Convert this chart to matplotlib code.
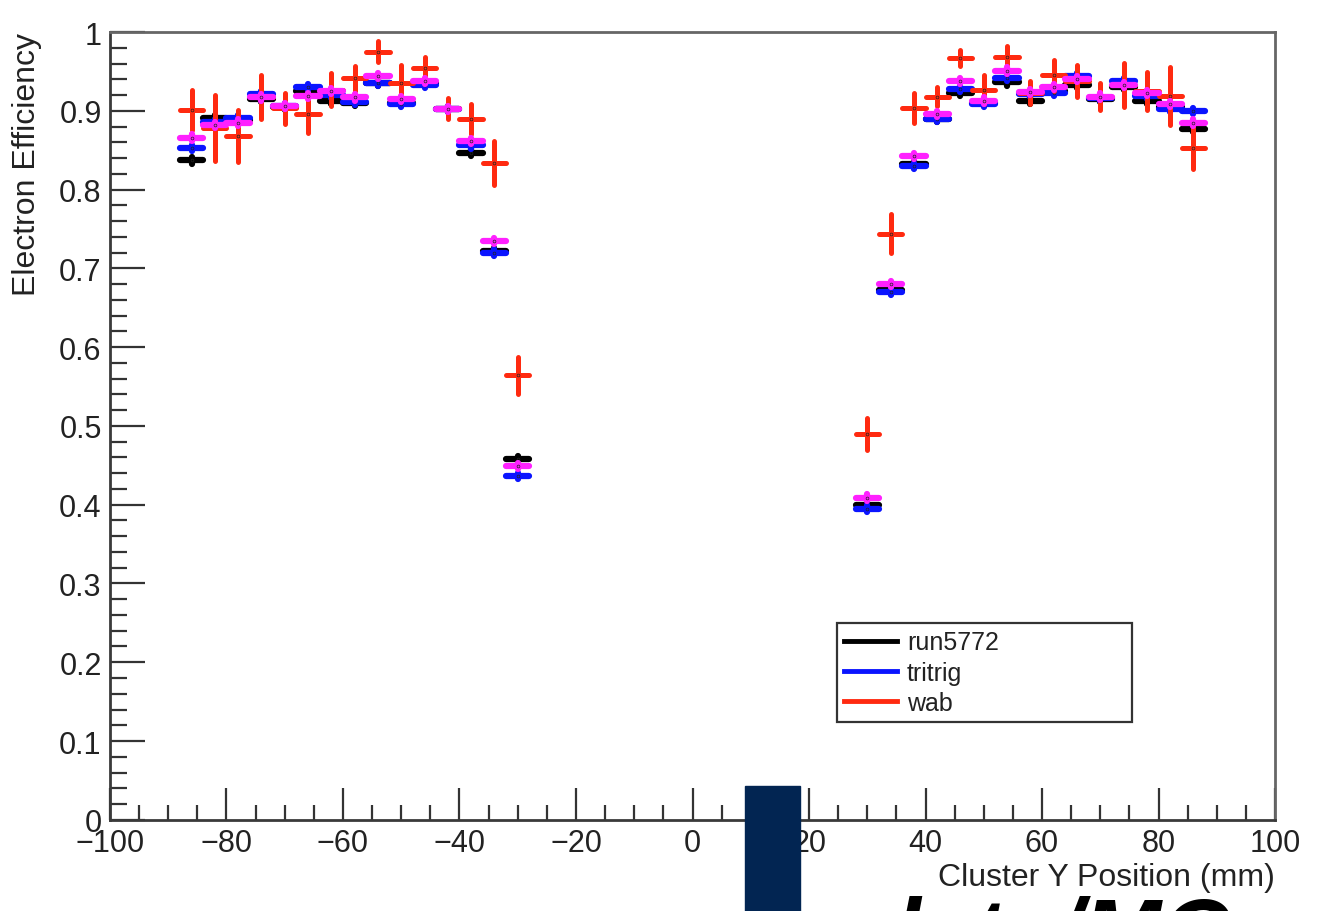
import numpy as np
import matplotlib
matplotlib.use("Agg")
import matplotlib.pyplot as plt
from matplotlib.lines import Line2D
from matplotlib.patches import Rectangle
from matplotlib.ticker import MultipleLocator, FuncFormatter

plt.rcParams['font.family'] = ['Liberation Sans', 'DejaVu Sans']

# bin centres (mm), 4 mm wide bins on each side of the gap
y_pos = [-86, -82, -78, -74, -70, -66, -62, -58, -54, -50, -46, -42, -38, -34, -30,
         30, 34, 38, 42, 46, 50, 54, 58, 62, 66, 70, 74, 78, 82, 86]

eff_run5772 = [0.837, 0.891, 0.888, 0.915, 0.905, 0.925, 0.913, 0.910, 0.935, 0.910,
               0.935, 0.902, 0.847, 0.722, 0.458,
               0.399, 0.672, 0.832, 0.890, 0.923, 0.910, 0.936, 0.913, 0.925, 0.933,
               0.915, 0.930, 0.913, 0.905, 0.877]

eff_tritrig = [0.853, 0.886, 0.891, 0.921, 0.906, 0.930, 0.920, 0.911, 0.935, 0.909,
               0.933, 0.902, 0.856, 0.720, 0.436,
               0.395, 0.670, 0.830, 0.890, 0.928, 0.909, 0.942, 0.921, 0.923, 0.944,
               0.916, 0.938, 0.919, 0.902, 0.900]

# magenta series (not in the legend)
eff_sum = [0.866, 0.882, 0.885, 0.917, 0.906, 0.919, 0.925, 0.917, 0.944, 0.915,
           0.938, 0.902, 0.862, 0.735, 0.449,
           0.409, 0.680, 0.843, 0.896, 0.938, 0.913, 0.951, 0.924, 0.930, 0.940,
           0.918, 0.933, 0.923, 0.909, 0.885]

eff_wab = [0.901, 0.878, 0.868, 0.917, 0.903, 0.896, 0.927, 0.941, 0.975, 0.935,
           0.954, 0.903, 0.890, 0.834, 0.564,
           0.490, 0.744, 0.904, 0.918, 0.967, 0.927, 0.968, 0.923, 0.945, 0.938,
           0.918, 0.933, 0.925, 0.919, 0.853]

err_wab = [0.025, 0.042, 0.033, 0.028, 0.020, 0.024, 0.021, 0.016, 0.013, 0.023,
           0.014, 0.013, 0.019, 0.028, 0.023,
           0.020, 0.025, 0.019, 0.012, 0.010, 0.018, 0.014, 0.015, 0.020, 0.020,
           0.017, 0.028, 0.024, 0.037, 0.027]

err_small = 0.004
half_bin = 2

fig = plt.figure(figsize=(13.25, 9.12), dpi=100)
ax = fig.add_axes([0.083, 0.1, 0.8793, 0.8638])


def draw(y, yerr, color, lw, z):
    eb = ax.errorbar(y_pos, y, xerr=half_bin, yerr=yerr, fmt='.', color=color,
                     ms=4, mec='#222222', mew=0.5, elinewidth=lw, capsize=0, zorder=z)
    for lc in eb[2]:
        lc.set_capstyle('round')
    return eb


draw(eff_run5772, err_small, 'black', 4.5, 3)
draw(eff_tritrig, err_small, '#0a14ff', 4.5, 4)
draw(eff_wab, err_wab, '#ff2a10', 3.6, 5)
draw(eff_sum, err_small, '#ff20ff', 4.5, 6)

ax.set_xlim(-100, 100)
ax.set_ylim(0, 1)

ax.xaxis.set_major_locator(MultipleLocator(20))
ax.xaxis.set_minor_locator(MultipleLocator(5))
ax.yaxis.set_major_locator(MultipleLocator(0.1))
ax.yaxis.set_minor_locator(MultipleLocator(0.02))
ax.yaxis.set_major_formatter(FuncFormatter(lambda v, p: '%g' % round(v, 2)))

ax.tick_params(which='both', direction='in', top=False, right=False,
               labelsize=22, labelcolor='#222222', color='#333333', width=1.6)
ax.tick_params(axis='y', which='major', length=25, pad=6)
ax.tick_params(axis='y', which='minor', length=12)
ax.tick_params(axis='x', which='major', length=23, pad=6)
ax.tick_params(axis='x', which='minor', length=11)

for s in ax.spines.values():
    s.set_linewidth(2)
    s.set_color('#3a3a3a')
ax.spines['top'].set_color('#666666')
ax.spines['right'].set_color('#666666')

fig.text(27 / 1325, 0.9638, 'Electron Efficiency', rotation=90, ha='center', va='top',
         fontsize=23, color='#222222')
fig.text(0.9623, 1 - 878 / 912, 'Cluster Y Position (mm)', ha='right', va='center',
         fontsize=23, color='#222222')

handles = [Line2D([], [], color='black', lw=3.5),
           Line2D([], [], color='#0a14ff', lw=3.5),
           Line2D([], [], color='#ff2a10', lw=3.5)]
leg = ax.legend(handles, ['run5772', 'tritrig', 'wab'], loc='upper left',
                bbox_to_anchor=(0.624, 0.124, 0.253, 0.126), mode='expand',
                borderaxespad=0, fontsize=18, handlelength=2.1, handletextpad=0.4,
                labelspacing=0.25, fancybox=False, framealpha=1, borderpad=0.3)
leg.get_frame().set_edgecolor('#333333')
leg.get_frame().set_linewidth(1.6)
for t in leg.get_texts():
    t.set_color('#222222')

# slide overlay: navy bar and the cut-off title at the bottom
fig.patches.append(Rectangle((745 / 1325, 0), 55 / 1325, 125 / 912,
                             transform=fig.transFigure, color='#022552', zorder=10))
fig.text(862 / 1325, 1 - 964 / 912, 'data/MC', fontsize=68, fontweight='bold',
         fontstyle='italic', color='black', ha='left', va='baseline')

fig.savefig('out.png', dpi=100)
